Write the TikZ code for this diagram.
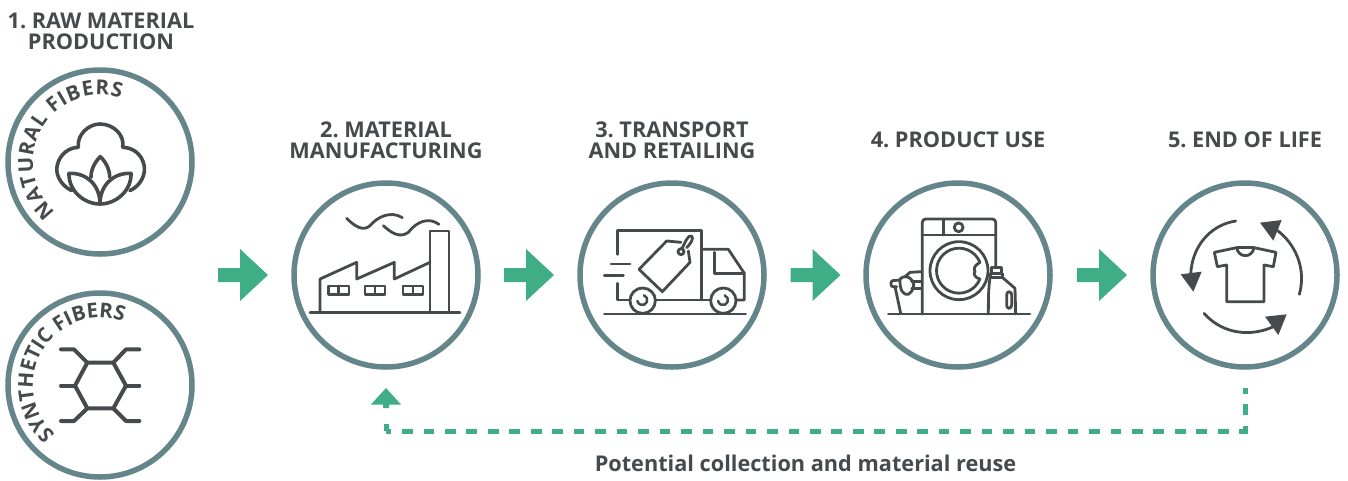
\documentclass[tikz,border=0pt]{standalone}
\usepackage{fontspec}
\setmainfont{Open Sans}
\usetikzlibrary{decorations.text,calc}
\definecolor{ring}{HTML}{64858A}
\definecolor{ink}{HTML}{474A4C}
\definecolor{grn}{HTML}{3FAE86}
\tikzset{
  ringnode/.style={circle,draw=ring,line width=5.5pt,minimum size=184pt,inner sep=0pt,fill=white},
  title/.style={font=\frenchspacing\bfseries\fontsize{21.7}{21}\selectfont,text=ink,align=center,inner sep=0pt},
  icon/.style={draw=ink,line width=2.8pt,line join=round,line cap=round},
  thinicon/.style={draw=ink,line width=2.5pt,line join=round,line cap=round},
  boldicon/.style={draw=ink,line width=3.6pt,line join=round,line cap=round},
  iconscope/.style={shift={#1},x=0.33333pt,y=-0.33333pt},
  reuse/.style={draw=grn,line width=5pt,dash pattern=on 10.7pt off 10.77pt,dash phase=5pt},
  blockarrow/.style={fill=grn}
}
\newcommand{\blockarr}[1]{\fill[blockarrow,shift={(#1,0)}] (218,268) -- (240,268) -- (240,249) -- (268,275) -- (240,301) -- (240,282) -- (218,282) -- cycle;}
\newcommand{\arclabel}[2]{\path[decorate,decoration={text along path,text align={fit to path},text={|\bfseries\fontsize{20.5}{20.5}\selectfont\color{ink}|#2}}] (#1) ++(228:67pt) arc[start angle=228,end angle=72,radius=67pt];}
\begin{document}
\begin{tikzpicture}[x=1pt,y=-1pt]
\useasboundingbox (0,0) rectangle (1348,480);
\fill[white] (0,0) rectangle (1348,480);
% rings
\node[ringnode] (natural) at (100,162) {};
\node[ringnode] (synthetic) at (100,385) {};
\node[ringnode] (factory) at (386,275) {};
\node[ringnode] (truck) at (672,275) {};
\node[ringnode] (washer) at (958,275) {};
\node[ringnode] (eol) at (1245,275) {};
% titles
\node[title] (t1) at (101,31) {1. RAW MATERIAL\\PRODUCTION};
\node[title] (t2) at (386,140) {2. MATERIAL\\MANUFACTURING};
\node[title] (t3) at (672,140) {3. TRANSPORT\\AND RETAILING};
\node[title] (t4) at (958,140) {4. PRODUCT USE};
\node[title] (t5) at (1245,140) {5. END OF LIFE};
\node[title] (t6) at (805.5,463.5) {Potential collection and material reuse};
% arc labels
\arclabel{natural}{NATURAL FIBERS}
\arclabel{synthetic}{SYNTHETIC FIBERS}
% block arrows
\blockarr{0}
\blockarr{286}
\blockarr{572.5}
\blockarr{859}
% reuse connector
\coordinate (reuseA) at (1245,388);
\coordinate (reuseB) at (386,424);
\coordinate (reuseC) at (386,431);
\draw[reuse] (reuseA) |- (reuseC) ;
\draw[grn,line width=5pt] (reuseC) -- (reuseB);
\fill[grn] (371,404.5) -- (386,388) -- (401,404.5) -- (389,404.5) -- (389,408) -- (383,408) -- (383,404.5) -- cycle;
% cotton
\begin{scope}[iconscope={(0,60)}]
\draw[boldicon] (215,392) .. controls (180,375) and (165,340) .. (172,315) .. controls (180,280) and (210,262) .. (235,262)
  .. controls (230,225) and (265,192) .. (300,192) .. controls (340,192) and (375,225) .. (368,262)
  .. controls (395,262) and (425,280) .. (432,315) .. controls (438,340) and (425,375) .. (390,392);
\draw[boldicon] (207,340) .. controls (260,338) and (300,375) .. (300,432) .. controls (300,375) and (340,338) .. (393,340)
  .. controls (395,390) and (350,432) .. (300,432) .. controls (250,432) and (205,390) .. (207,340) -- cycle;
\draw[boldicon] (273,352) .. controls (272,330) and (285,305) .. (301,290) .. controls (317,305) and (330,330) .. (329,352);
\end{scope}
% hexagon
\begin{scope}[iconscope={(0,285)}]
\draw[boldicon,line width=4pt] (262,233) -- (340,233) -- (378,302) -- (340,370) -- (262,370) -- (225,302) -- cycle;
\draw[boldicon,line width=4pt] (262,233) -- (222,193) -- (183,193);
\draw[boldicon,line width=4pt] (340,233) -- (378,193) -- (418,193);
\draw[boldicon,line width=4pt] (225,302) -- (183,302);
\draw[boldicon,line width=4pt] (378,302) -- (418,302);
\draw[boldicon,line width=4pt] (262,370) -- (222,408) -- (183,408);
\draw[boldicon,line width=4pt] (340,370) -- (378,408) -- (418,408);
\end{scope}
% factory
\begin{scope}[iconscope={(285,175)}]
\draw[icon] (75,413) -- (525,413);
\draw[icon] (105,413) -- (105,312) -- (215,262) -- (215,312) -- (328,262) -- (328,312) -- (435,262);
\draw[icon] (435,413) -- (435,168) -- (492,168) -- (492,413);
\foreach \a/\b in {130/192,240/300,354/414}{
  \draw[thinicon] (\a,333) rectangle (\b,358);
  \draw[thinicon] ({(\a+\b)/2},333) -- ({(\a+\b)/2},358);
}
\draw[icon] (185,130) .. controls (210,155) and (235,170) .. (255,152) .. controls (275,128) and (315,105) .. (352,128);
\draw[icon] (295,152) .. controls (320,175) and (345,190) .. (370,172) .. controls (395,140) and (430,125) .. (462,148);
\end{scope}
% truck
\begin{scope}[iconscope={(575,175)}]
\draw[icon] (88,417) -- (512,417);
\draw[icon] (128,238) -- (128,167) -- (380,167) -- (380,375);
\draw[icon] (128,325) -- (128,375) -- (165,375);
\draw[icon] (240,375) -- (405,375);
\draw[icon] (485,375) -- (508,375) -- (508,295) -- (460,223) -- (380,223);
\draw[icon] (418,232) -- (418,295) -- (508,295);
\draw[icon] (108,267) -- (165,267);
\draw[icon] (88,302) -- (145,302);
\fill[white] (192,283) -- (275,198) -- (318,202) -- (345,235) -- (345,262) -- (262,350) -- cycle;
\draw[icon] (192,283) -- (275,198) -- (318,202);
\draw[icon] (340,228) -- (345,262) -- (262,350) -- (192,283);
\draw[icon] (318,230) circle[radius=3pt];
\draw[icon] (320,222) .. controls (330,205) and (338,178) .. (350,183) .. controls (358,190) and (345,208) .. (335,218);
\foreach \cx in {203,445}{
  \draw[icon,fill=white] (\cx,377) circle[radius=12.7pt];
  \draw[thinicon] (\cx+4,361) arc[start angle=70,end angle=-170,radius=5pt];
}
\end{scope}
% washer
\begin{scope}[iconscope={(860,175)}]
\draw[icon] (85,417) -- (510,417);
\draw[icon] (187,417) -- (187,142) to[out=90,in=180] (197,132) -- (397,132) to[out=0,in=90] (407,142) -- (407,278);
\draw[icon] (187,180) -- (407,180);
\draw[icon] (250,132) -- (250,180);
\draw[icon] (296,157) circle[radius=4.4pt];
\draw[icon] (297,287) circle[radius=29pt];
\draw[icon] (297,287) ++(22:22.5pt) arc[start angle=22,end angle=338,radius=22.5pt] .. controls (345,308) and (338,295) .. (345,290) .. controls (340,282) and (342,272) .. (360,262);
% bottle
\draw[icon] (395,295) -- (395,278) -- (425,278) -- (425,295);
\draw[icon] (392,308) -- (392,295) -- (428,295) -- (428,308) -- cycle;
\draw[icon] (390,308) .. controls (385,340) and (385,380) .. (385,417);
\draw[icon] (428,308) -- (465,340) -- (467,417);
\draw[icon] (447,350) to[out=0,in=90] (455,360) -- (455,390) to[out=-90,in=0] (447,400) to[out=180,in=-90] (440,390) -- (440,360) to[out=90,in=180] (447,350);
% basket
\draw[icon] (98,317) -- (120,315);
\draw[icon] (98,317) to[out=180,in=180] (98,335) -- (110,335);
\draw[icon] (105,335) -- (122,415);
\draw[icon] (120,312) .. controls (130,300) and (150,305) .. (155,315) .. controls (168,325) and (160,350) .. (145,358) .. controls (130,362) and (118,345) .. (120,312);
\draw[icon] (135,305) -- (150,292) -- (185,290);
\draw[icon] (155,320) -- (185,320);
\draw[icon] (155,340) -- (185,340);
\end{scope}
% tee and cycle
\begin{scope}[iconscope={(1145,175)}]
\draw[icon] (208,232) -- (275,218) .. controls (280,250) and (322,250) .. (327,218) -- (393,232) -- (385,275) -- (357,270) -- (357,380) -- (245,380) -- (245,270) -- (217,275) -- cycle;
\draw[thinicon] (275,218) -- (327,218);
\draw[icon] (272,138) .. controls (195,150) and (140,215) .. (137,300);
\fill[ink] (107,298) -- (170,290) -- (145,350) -- cycle;
\draw[icon] (463,358) .. controls (485,280) and (450,205) .. (395,165);
\fill[ink] (345,143) -- (410,135) -- (385,197) -- cycle;
\draw[icon] (177,415) .. controls (235,480) and (320,485) .. (385,455);
\fill[ink] (360,425) -- (425,418) -- (400,480) -- cycle;
\end{scope}
\end{tikzpicture}
\end{document}
